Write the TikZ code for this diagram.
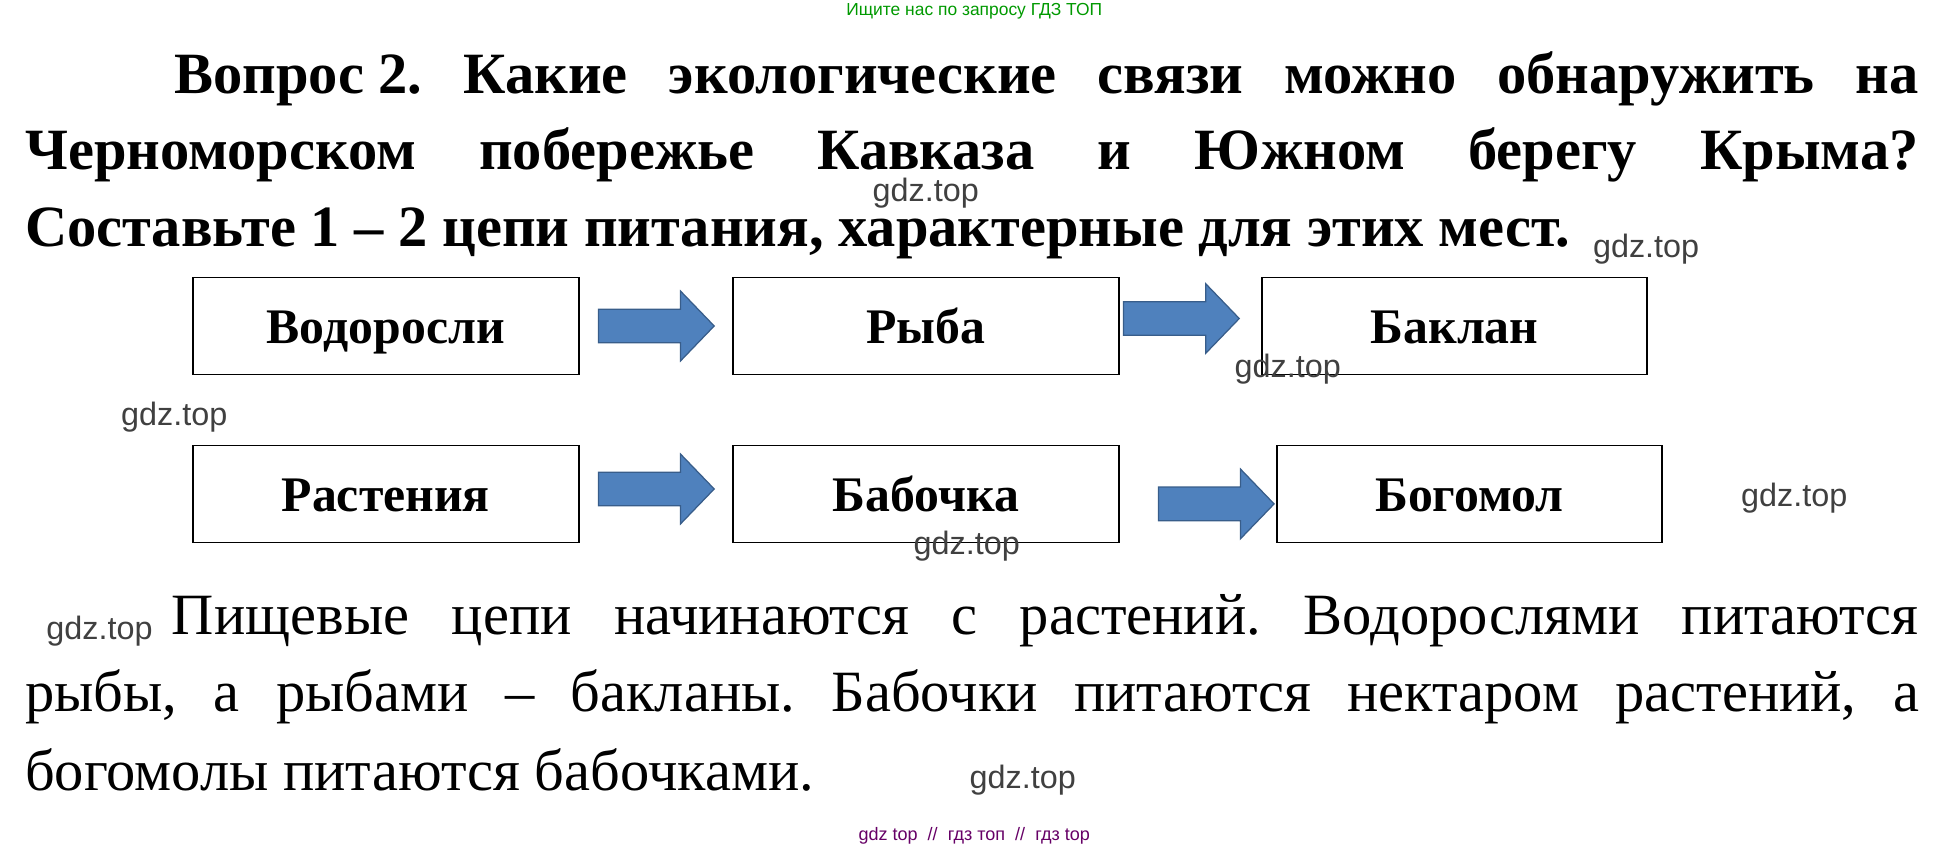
\documentclass[tikz,border=0pt]{standalone}
\usepackage{fontspec}
\setmainfont{Liberation Serif}
\newfontfamily\wmfont{Liberation Sans}
\definecolor{arrowblue}{HTML}{4F81BD}
\definecolor{arrowedge}{HTML}{385D8A}
\newcommand{\jline}[2]{\hbox to #1{#2}}
% block arrow: start point x, centre y
\newcommand{\blockarrow}[2]{%
  \fill[arrowblue, draw=arrowedge, line width=1pt]
    (#1,#2-13.5) -- ++(66,0) -- ++(0,-14.5) -- ++(27,28) -- ++(-27,28)
    -- ++(0,-14.5) -- ++(-66,0) -- cycle;}
\begin{document}
\begin{tikzpicture}[x=1pt,y=-1pt,
        box/.style={rectangle, draw, line width=1.5pt, minimum width=310pt, minimum height=78pt, text height=28pt, text depth=0pt, font=\fontsize{40}{42}\selectfont\bfseries},
        wm/.style={font=\wmfont\fontsize{26}{28}\selectfont, text=black!75, inner sep=0pt},
        title/.style={font=\fontsize{47}{50}\selectfont\bfseries, anchor=base west, inner sep=0pt},
        body/.style={font=\fontsize{47}{50}\selectfont, anchor=base west, inner sep=0pt}
    ]
    \useasboundingbox (0,0) rectangle (1560,682);

    % header and footer
    \node[font=\wmfont\fontsize{14}{16}\selectfont, text=green!60!black] (top) at (783,9) {Ищите нас по запросу ГДЗ ТОП};
    \node[font=\wmfont\fontsize{14.5}{16}\selectfont, text=violet!80!black] (bottom) at (783,672) {gdz top \ // \ гдз топ \ // \ гдз top};

    % question
    \node[title] (q1) at (140,75) {\jline{1402pt}{Вопрос 2.\hfill Какие\hfill экологические\hfill связи\hfill можно\hfill обнаружить\hfill на}};
    \node[title] (q2) at (20,136) {\jline{1522pt}{Черноморском\hfill побережье\hfill Кавказа\hfill и\hfill Южном\hfill берегу\hfill Крыма?}};
    \node[title] (q3) at (20,198) {Составьте 1 – 2 цепи питания, характерные для этих мест.};

    % food chains
    \node[box] (algae) at (310,262) {Водоросли};
    \node[box] (fish) at (744,262) {Рыба};
    \node[box] (cormorant) at (1169,262) {Баклан};
    \node[box] (plants) at (310,397) {Растения};
    \node[box] (butterfly) at (744,397) {Бабочка};
    \node[box] (mantis) at (1181,397) {Богомол};

    \blockarrow{481}{262}
    \blockarrow{903}{256}
    \blockarrow{481}{393}
    \blockarrow{931}{405}

    % answer
    \node[body] (t1) at (138,510) {\jline{1404pt}{Пищевые\hfill цепи\hfill начинаются\hfill с\hfill растений.\hfill Водорослями\hfill питаются}};
    \node[body] (t2) at (20,572) {\jline{1522pt}{рыбы,\hfill а\hfill рыбами\hfill –\hfill бакланы.\hfill Бабочки\hfill питаются\hfill нектаром\hfill растений,\hfill а}};
    \node[body] (t3) at (20,635) {богомолы питаются бабочками.};

    % watermarks
    \node[wm] (w1) at (744,155) {gdz.top};
    \node[wm] (w2) at (1323,200) {gdz.top};
    \node[wm] (w3) at (1035,297) {gdz.top};
    \node[wm] (w4) at (140,335) {gdz.top};
    \node[wm] (w5) at (1442,400) {gdz.top};
    \node[wm] (w6) at (777,439) {gdz.top};
    \node[wm] (w7) at (80,507) {gdz.top};
    \node[wm] (w8) at (822,627) {gdz.top};
\end{tikzpicture}
\end{document}
